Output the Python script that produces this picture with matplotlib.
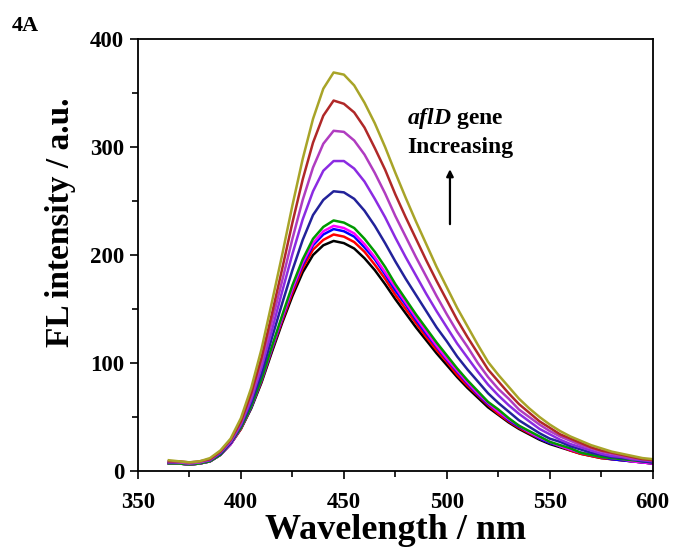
import matplotlib.pyplot as plt
from matplotlib.ticker import MultipleLocator

# Fluorescence emission spectra recorded with increasing aflD gene concentration.
WAVELENGTH = list(range(365, 601, 5))

SPECTRUM_BLACK = [7, 7, 6, 7, 9, 15, 25, 39, 58, 82, 110, 137, 162, 184, 200, 209, 213, 211,
                  206, 197, 186, 173, 159, 146, 133, 121, 109, 98, 87, 77, 68, 59, 52, 45, 39,
                  34, 29, 25, 22, 19, 16, 14, 12, 11, 10, 9, 8, 7]
SPECTRUM_RED = [7, 7, 6, 7, 9, 15, 25, 39, 59, 83, 112, 139, 165, 188, 205, 214, 219, 217,
                212, 203, 191, 178, 163, 150, 137, 124, 112, 101, 89, 79, 70, 61, 53, 46, 40,
                35, 30, 26, 23, 19, 16, 14, 12, 11, 10, 9, 8, 7]
SPECTRUM_BLUE = [7, 7, 6, 7, 9, 15, 25, 40, 59, 84, 113, 141, 168, 191, 209, 219, 224, 222,
                 217, 207, 196, 182, 167, 154, 140, 127, 115, 103, 92, 81, 71, 62, 55, 47, 41,
                 36, 30, 26, 23, 20, 17, 15, 13, 11, 10, 9, 8, 7]
SPECTRUM_MAGENTA = [7, 7, 6, 7, 9, 15, 25, 40, 60, 85, 114, 142, 169, 193, 211, 222, 227, 225,
                    220, 210, 198, 184, 170, 156, 142, 129, 116, 104, 93, 82, 72, 63, 55, 48,
                    42, 36, 31, 27, 23, 20, 17, 15, 13, 12, 11, 9, 8, 7]
SPECTRUM_GREEN = [7, 7, 6, 7, 9, 15, 26, 40, 60, 85, 115, 144, 172, 196, 215, 226, 232, 230,
                  225, 215, 203, 189, 173, 159, 145, 132, 119, 107, 95, 84, 74, 64, 57, 49, 42,
                  37, 32, 27, 24, 21, 17, 15, 13, 12, 11, 10, 9, 8]
SPECTRUM_NAVY = [8, 8, 7, 8, 10, 16, 26, 42, 63, 90, 123, 155, 186, 214, 237, 251, 259, 258,
                 252, 241, 227, 211, 194, 178, 163, 148, 133, 120, 106, 94, 83, 72, 63, 55, 47,
                 41, 35, 30, 27, 23, 20, 17, 15, 13, 12, 11, 9, 8]
SPECTRUM_VIOLET = [8, 8, 7, 8, 10, 17, 27, 43, 66, 96, 130, 166, 201, 233, 259, 278, 287, 287,
                   280, 268, 252, 235, 216, 198, 181, 164, 148, 133, 118, 105, 92, 80, 70, 61,
                   53, 46, 39, 34, 29, 25, 22, 19, 16, 14, 13, 11, 10, 9]
SPECTRUM_PURPLE = [9, 8, 7, 8, 11, 18, 28, 45, 69, 100, 138, 176, 215, 251, 281, 303, 315, 314,
                   306, 293, 276, 257, 236, 217, 198, 180, 162, 145, 129, 115, 100, 87, 76, 67,
                   57, 50, 43, 37, 32, 28, 24, 21, 18, 16, 14, 12, 11, 10]
SPECTRUM_DARKRED = [9, 9, 8, 9, 11, 18, 29, 46, 72, 105, 145, 187, 230, 270, 304, 329, 343, 340,
                    332, 318, 299, 279, 256, 235, 215, 195, 176, 158, 140, 124, 109, 94, 83, 72,
                    62, 54, 46, 40, 34, 30, 26, 22, 19, 17, 15, 13, 11, 10]
SPECTRUM_OLIVE = [10, 9, 8, 9, 12, 19, 30, 49, 77, 113, 156, 200, 246, 289, 326, 354, 369, 367,
                  357, 341, 322, 300, 276, 253, 231, 210, 189, 170, 151, 134, 117, 101, 89, 78,
                  67, 58, 50, 43, 37, 32, 28, 24, 21, 18, 16, 14, 12, 11]

SPECTRA = [SPECTRUM_BLACK, SPECTRUM_RED, SPECTRUM_BLUE, SPECTRUM_MAGENTA, SPECTRUM_GREEN,
           SPECTRUM_NAVY, SPECTRUM_VIOLET, SPECTRUM_PURPLE, SPECTRUM_DARKRED, SPECTRUM_OLIVE]
COLORS = ["#000000", "#ff0000", "#0000ff", "#ff00ff", "#009900",
          "#22229a", "#8b2be2", "#b03cc0", "#b02828", "#a8a428"]

plt.rcParams["font.family"] = "Liberation Serif"
plt.rcParams["font.weight"] = "bold"
plt.rcParams["mathtext.fontset"] = "custom"
plt.rcParams["mathtext.it"] = "Liberation Serif:italic:bold"
plt.rcParams["mathtext.rm"] = "Liberation Serif:bold"

fig = plt.figure(figsize=(6.73, 5.49), dpi=100)
ax = fig.add_axes([0.205, 0.142, 0.765, 0.787])

# Plot lowest spectrum first so the higher ones sit on top.
for values, color in zip(SPECTRA, COLORS):
    ax.plot(WAVELENGTH, values, color=color, linewidth=1.8)

ax.set_xlim(350, 600)
ax.set_ylim(0, 400)
ax.xaxis.set_major_locator(MultipleLocator(50))
ax.xaxis.set_minor_locator(MultipleLocator(25))
ax.yaxis.set_major_locator(MultipleLocator(100))
ax.yaxis.set_minor_locator(MultipleLocator(50))
ax.tick_params(which="both", direction="out", top=False, right=False, width=1.2,
               labelsize=16.5)
ax.tick_params(axis="x", which="major", length=6, pad=9)
ax.tick_params(axis="y", which="major", length=6, pad=4)
ax.tick_params(which="minor", length=4)
for spine in ax.spines.values():
    spine.set_linewidth(1.3)

ax.set_xlabel("Wavelength / nm", fontsize=26, fontweight="bold", labelpad=1)
ax.set_ylabel("FL intensity / a.u.", fontsize=24, fontweight="bold")
ax.yaxis.set_label_coords(-0.12, 0.576)

ax.text(480.6, 321, r"$\it{aflD}$ gene", fontsize=17, fontweight="bold", va="baseline")
ax.text(480.6, 294, "Increasing", fontsize=17, fontweight="bold", va="baseline")
ax.annotate("", xy=(501.5, 282), xytext=(501.5, 226),
            arrowprops=dict(arrowstyle="-|>", color="black", lw=1.6,
                            mutation_scale=10))

fig.text(0.018, 0.952, "4A", fontsize=16, fontweight="bold", ha="left", va="center")

fig.savefig("out.png", dpi=100)
